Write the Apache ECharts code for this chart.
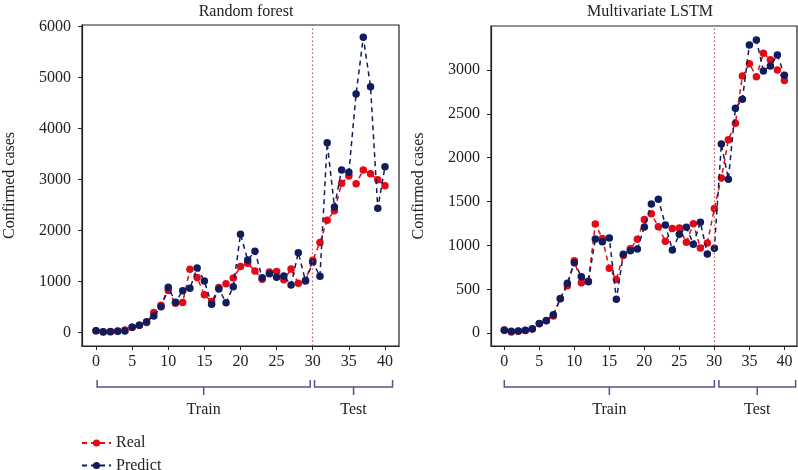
<!DOCTYPE html>
<html><head><meta charset="utf-8">
<script src="https://cdn.jsdelivr.net/npm/echarts@6/dist/echarts.min.js"></script>
<style>html,body{margin:0;padding:0;background:#fff}#c{width:798px;height:470px}</style>
</head><body><div id="c"></div>
<script>
// ---------- data ----------
const days = [0,1,2,3,4,5,6,7,8,9,10,11,12,13,14,15,16,17,18,19,20,21,22,23,24,25,26,27,28,29,30,31,32,33,34,35,36,37,38,39,40];
const realCases = [37,15,23,32,52,108,145,198,397,540,825,575,592,1245,1080,742,613,887,962,1070,1296,1360,1212,1047,1192,1200,1036,1248,970,1028,1421,1770,2203,2391,2930,3070,2922,3190,3116,3000,2880];
const rfPredict = [40,20,20,30,35,105,145,216,327,510,890,596,824,870,1268,1014,556,857,588,902,1929,1425,1596,1078,1157,1086,1112,935,1569,1014,1380,1105,3726,2465,3190,3144,4680,5792,4824,2439,3255];
const lstmPredict = [34,23,26,34,49,110,144,212,394,569,804,645,588,1074,1043,1085,387,900,940,960,1211,1473,1526,1233,949,1128,1207,1014,1264,903,968,2156,1754,2563,2665,3284,3340,2988,3044,3170,2938];
const xTicks = [0,5,10,15,20,25,30,35,40];
const rfYTicks = [0,1000,2000,3000,4000,5000,6000];
const lstmYTicks = [0,500,1000,1500,2000,2500,3000];
const splitDay = 30;
const panelTitles = ['Random forest','Multivariate LSTM'];
const yName = 'Confirmed cases';
const seriesNames = ['Real','Predict'];
const spanLabels = ['Train','Test'];
const rfSpans = [[0.15,29.65],[30.25,41.05]];
const lstmSpans = [[0,30],[30.65,41.6]];

// ---------- style ----------
const FONT = 'Liberation Serif';
const RED = '#e30a17', NAVY = '#101c5c', BR = '#5c4e8c', INK = '#222';

const chart = echarts.init(document.getElementById('c'));

function pairs(v){ return days.map((d,i)=>[d, v[i]]); }
const plain = v => String(v);

function xAxis(gi, min, max){
  return {gridIndex:gi, type:'value', min:min, max:max,
    axisLine:{show:true, onZero:false, lineStyle:{color:INK, width:1.2}},
    axisTick:{show:true, length:4, customValues:xTicks, lineStyle:{color:INK, width:1}},
    axisLabel:{customValues:xTicks, formatter:plain, fontFamily:FONT, fontSize:16, color:INK, margin:8},
    splitLine:{show:false}};
}
function yAxis(gi, min, max, ticks){
  return {gridIndex:gi, type:'value', min:min, max:max,
    name:yName, nameLocation:'middle', nameGap:64, nameRotate:90,
    nameTextStyle:{fontFamily:FONT, fontSize:16, color:INK},
    axisLine:{show:true, onZero:false, lineStyle:{color:INK, width:1.2}},
    axisTick:{show:true, length:4, customValues:ticks, lineStyle:{color:INK, width:1}},
    axisLabel:{customValues:ticks, formatter:plain, fontFamily:FONT, fontSize:16, color:INK, margin:11},
    splitLine:{show:false}};
}
function lineSeries(name, gi, vals, color, withSplit){
  const s = {name:name, type:'line', xAxisIndex:gi, yAxisIndex:gi, data:pairs(vals),
    symbol:'circle', symbolSize:7.5, showSymbol:true,
    itemStyle:{color:color},
    lineStyle:{color:color, width:1.5, type:[5,4]}, z: name==='Predict'?3:2};
  if (withSplit) {
    s.markLine = {silent:true, symbol:['none','none'], label:{show:false},
      lineStyle:{type:[1.5,2.5], color:'#e8413c', width:1.2},
      data:[{xAxis:splitDay}]};
  }
  return s;
}
function legendFor(name, top){
  return {orient:'vertical', left:81, top:top, padding:0, itemWidth:29, itemHeight:9,
    data:[name], textStyle:{fontFamily:FONT, fontSize:16, color:INK}};
}

chart.setOption({
  animation:false,
  backgroundColor:'#fff',
  title:[
    {text:panelTitles[0], left:241, top:-1, textAlign:'center', textStyle:{fontFamily:FONT, fontSize:16, fontWeight:'normal', color:INK}},
    {text:panelTitles[1], left:645, top:-1, textAlign:'center', textStyle:{fontFamily:FONT, fontSize:16, fontWeight:'normal', color:INK}}
  ],
  grid:[
    {left:82, top:25, width:317, height:321, show:true, borderColor:INK, borderWidth:1.2, containLabel:false},
    {left:491, top:26, width:306, height:320, show:true, borderColor:INK, borderWidth:1.2, containLabel:false}
  ],
  xAxis:[xAxis(0,-1.94,41.94), xAxis(1,-1.9,41.8)],
  yAxis:[yAxis(0,-261,6033,rfYTicks), yAxis(1,-145,3500,lstmYTicks)],
  legend:[legendFor(seriesNames[0],435), legendFor(seriesNames[1],457.5)],
  series:[
    lineSeries(seriesNames[0],0,realCases,RED,true),
    lineSeries(seriesNames[1],0,rfPredict,NAVY,false),
    lineSeries(seriesNames[0],1,realCases,RED,true),
    lineSeries(seriesNames[1],1,lstmPredict,NAVY,false)
  ]
});

// brackets under the x axes
const els = [];
function brackets(gi, spans){
  spans.forEach((sp, k)=>{
    const a = chart.convertToPixel({gridIndex:gi},[sp[0],0])[0];
    const b = chart.convertToPixel({gridIndex:gi},[sp[1],0])[0];
    const m = (a+b)/2;
    els.push({type:'polyline', shape:{points:[[a,380],[a,387],[b,387],[b,380]]}, style:{stroke:BR, lineWidth:1.5, fill:null}, silent:true});
    els.push({type:'line', shape:{x1:m,y1:387,x2:m,y2:395}, style:{stroke:BR, lineWidth:1.5}, silent:true});
    els.push({type:'text', x:m, y:410, style:{text:spanLabels[k], fontFamily:FONT, fontSize:16, fill:INK, align:'center', verticalAlign:'middle'}, silent:true});
  });
}
brackets(0, rfSpans);
brackets(1, lstmSpans);
chart.setOption({graphic:els});
</script>
</body></html>
